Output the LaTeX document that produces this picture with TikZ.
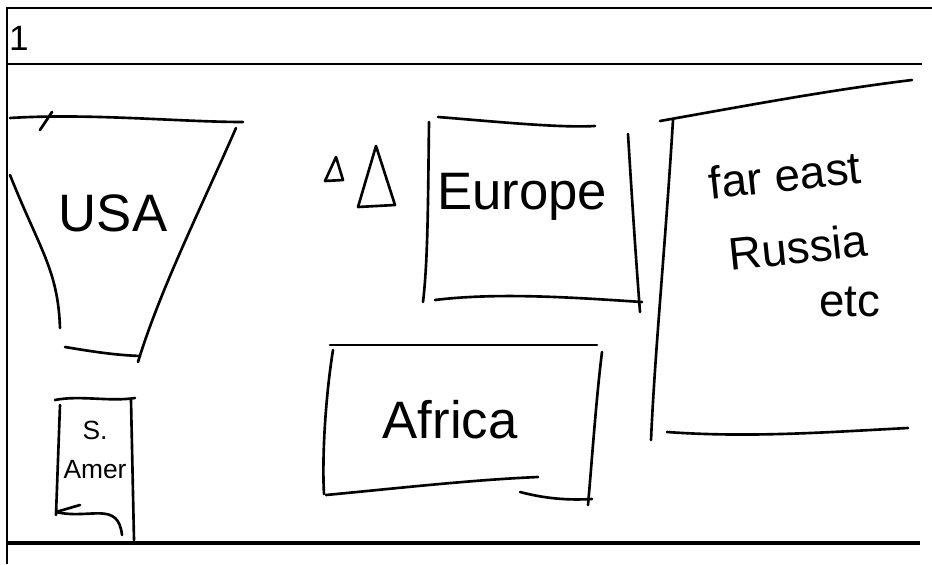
\documentclass[tikz,border=0pt]{standalone}
\usepackage{fontspec}
\setmainfont{Liberation Sans}
\begin{document}
\begin{tikzpicture}[x=0.02cm, y=-0.02cm,
    pen/.style={line width=1.5pt, line cap=round, line join=round},
    rule/.style={line width=0.7pt},
    hand/.style={font=\fontsize{30}{32}\selectfont, inner sep=0pt, align=center},
    small/.style={font=\fontsize{15}{16}\selectfont, inner sep=0pt, align=center}]
  \useasboundingbox (0,0) rectangle (932,564);
  % page frame and rules
  \draw[rule] (932,8) -- (7,8) -- (7,564);
  \draw[rule] (8,64) -- (922,64);
  \draw[line width=2.5pt] (8,543) -- (920,543);
  \node[font=\fontsize{20}{20}\selectfont, inner sep=0pt] (pagenum) at (19,38) {1};

  % USA
  \draw[pen] (10,118) .. controls (90,113) and (180,122) .. (243,122);
  \draw[pen] (40,130) -- (52,112);
  \draw[pen] (236,128) .. controls (200,210) and (160,290) .. (138,362);
  \draw[pen] (65,347) .. controls (95,352) and (115,355) .. (140,356);
  \draw[pen] (10,175) .. controls (40,250) and (58,270) .. (60,328);
  \node[hand] (usa) at (113,213) {USA};

  % South America
  \draw[pen] (55,400) .. controls (80,395) and (110,402) .. (135,398);
  \draw[pen] (60,405) -- (56,515);
  \draw[pen] (131,400) -- (134,540);
  \draw[pen] (56,512) -- (80,505);
  \draw[pen] (56,512) .. controls (90,520) and (118,500) .. (122,535);
  \node[small] (samer) at (95,450) {S.\\[6pt]Amer};

  % mountains
  \draw[pen] (336,157) -- (343,180) -- (325,181) -- cycle;
  \draw[pen] (376,146) -- (395,205) -- (358,207) -- cycle;

  % Europe
  \draw[pen] (438,117) .. controls (500,122) and (560,128) .. (595,126);
  \draw[pen] (429,122) .. controls (428,200) and (428,260) .. (423,302);
  \draw[pen] (628,134) .. controls (632,200) and (636,260) .. (640,312);
  \draw[pen] (435,300) .. controls (500,292) and (580,298) .. (642,302);
  \node[hand] (europe) at (522,197) {Europe};

  % Africa
  \draw[pen] (330,345) -- (597,345);
  \draw[pen] (333,350) .. controls (325,400) and (322,460) .. (324,494);
  \draw[pen] (602,352) .. controls (596,400) and (592,460) .. (588,505);
  \draw[pen] (326,495) .. controls (400,488) and (470,480) .. (538,477);
  \draw[pen] (520,492) .. controls (550,500) and (575,500) .. (592,499);
  \node[hand] (africa) at (450,420) {Africa};

  % Far East
  \draw[pen] (660,121) .. controls (750,105) and (830,90) .. (912,80);
  \draw[pen] (673,120) .. controls (665,250) and (655,350) .. (651,440);
  \draw[pen] (667,432) .. controls (750,438) and (830,432) .. (908,428);
  \node[hand, font=\fontsize{26}{28}\selectfont, rotate=6] (fareast) at (785,175) {far east};
  \node[hand, font=\fontsize{26}{28}\selectfont, rotate=6] (russia) at (798,247) {Russia};
  \node[hand, font=\fontsize{26}{28}\selectfont] (etc) at (850,302) {etc};
\end{tikzpicture}
\end{document}
